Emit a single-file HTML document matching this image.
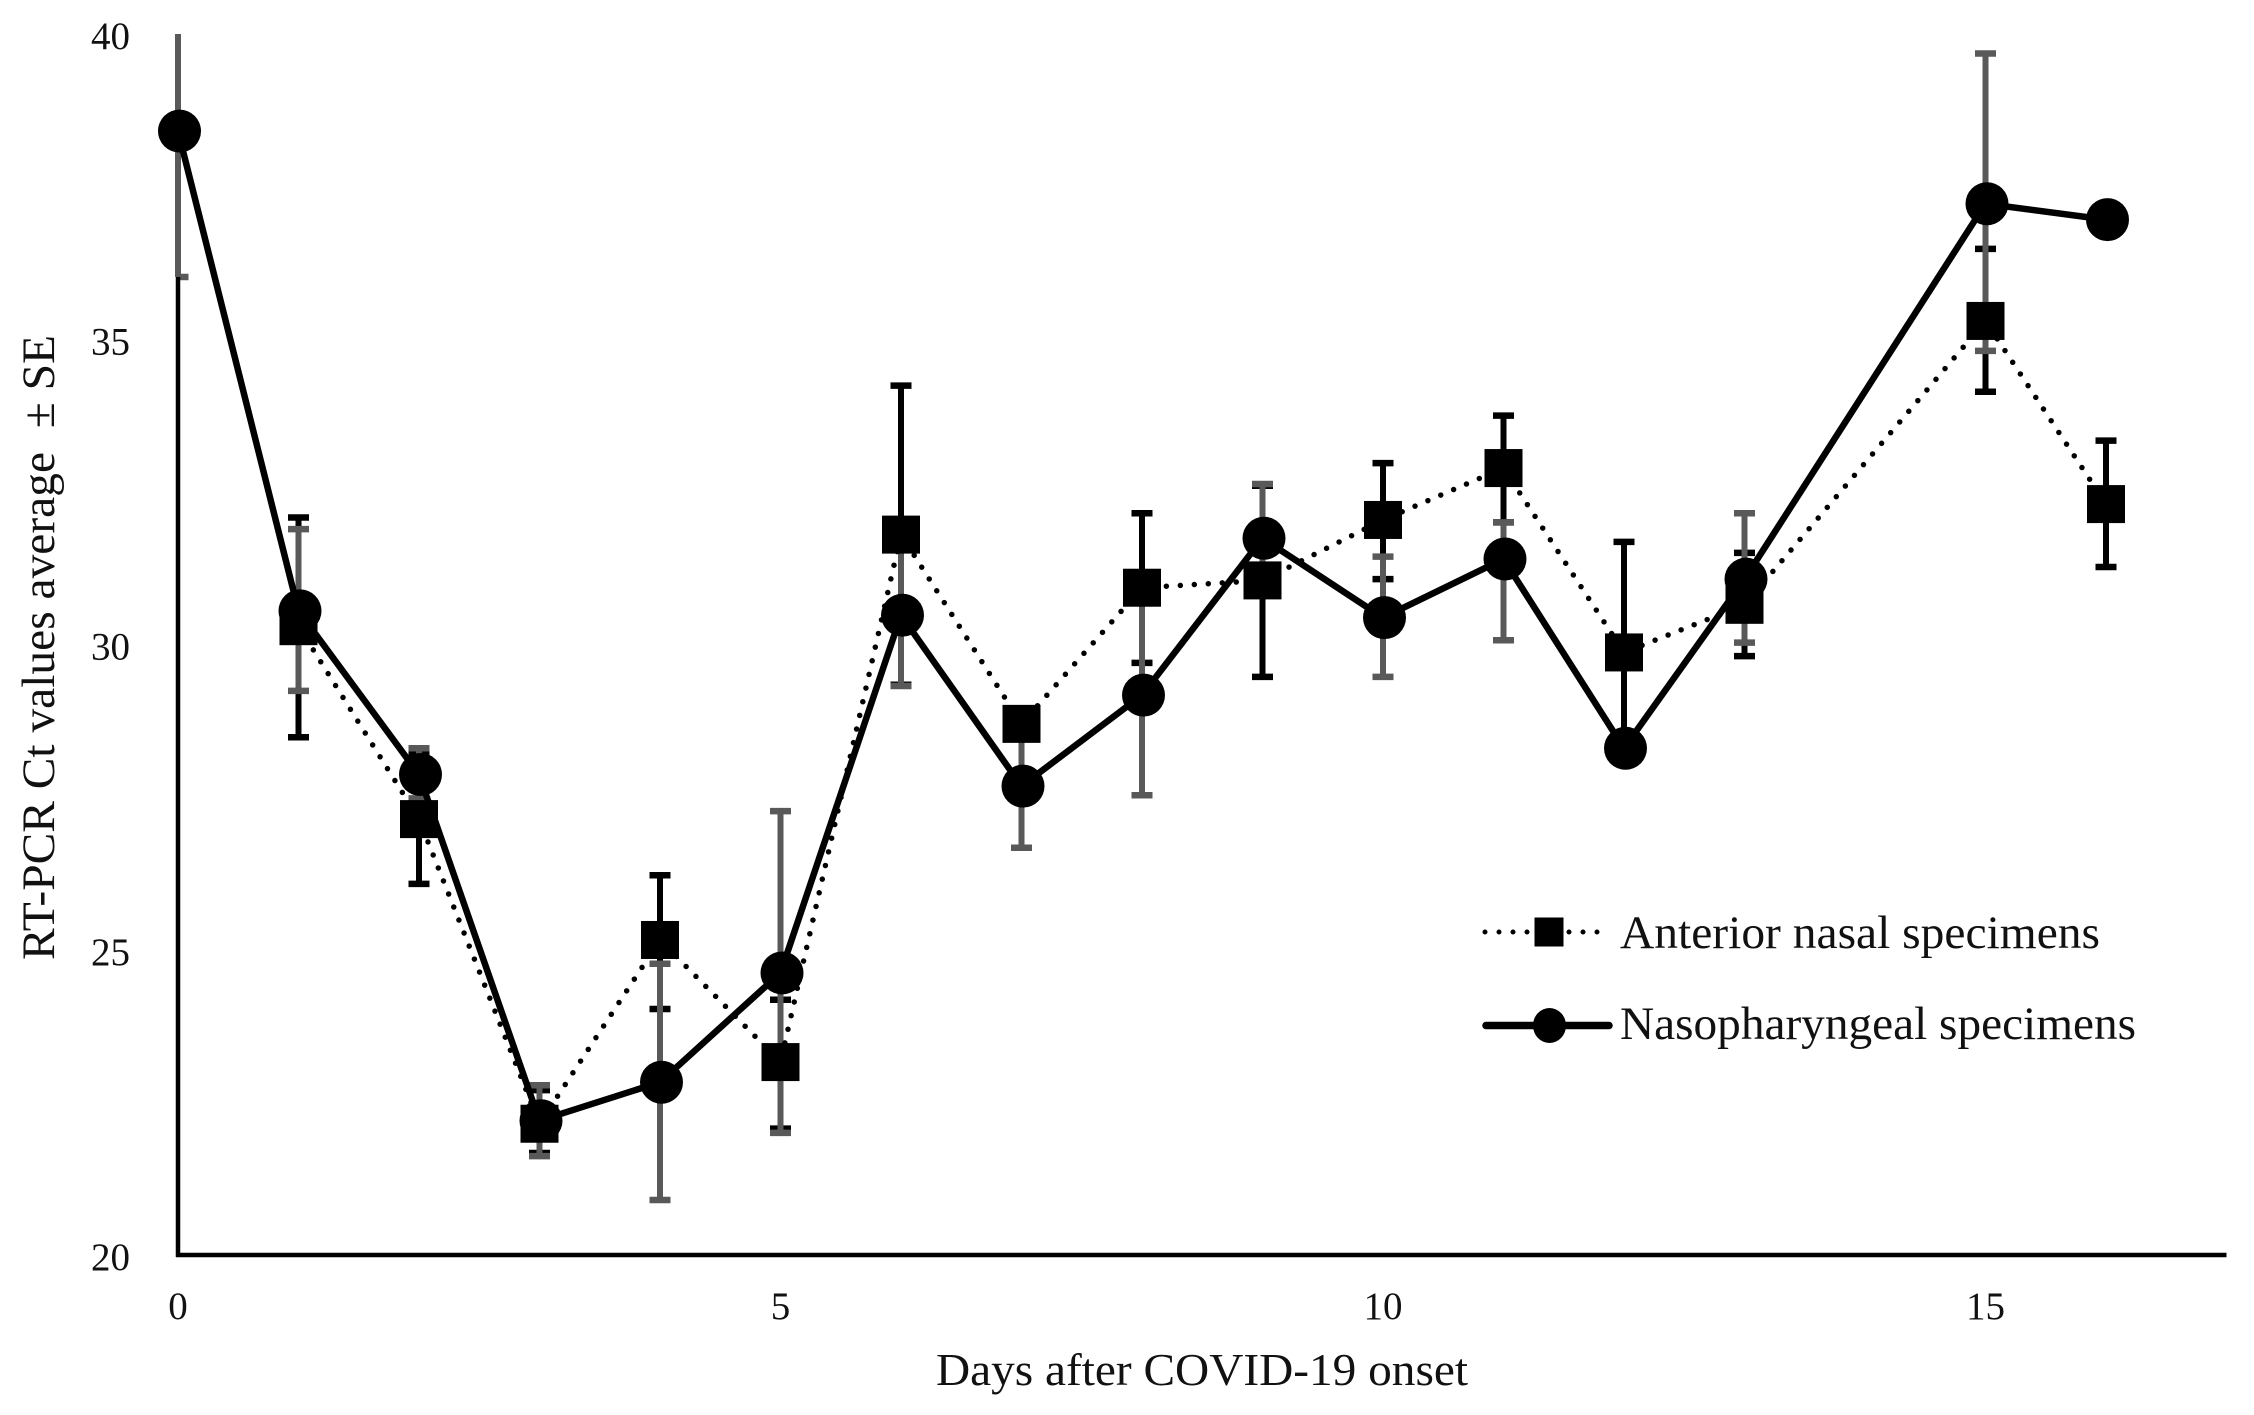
<!DOCTYPE html>
<html lang="en">
<head>
<meta charset="utf-8">
<title>RT-PCR Ct values by days after COVID-19 onset</title>
<style>
  html, body { margin: 0; padding: 0; background: #fff; }
  body { width: 2254px; height: 1415px; overflow: hidden; }
  svg { display: block; }
  text { font-family: "Liberation Serif", "Times New Roman", serif; fill: #111; }
</style>
</head>
<body>
<svg id="chart" width="2254" height="1415" viewBox="0 0 2254 1415" xmlns="http://www.w3.org/2000/svg">
  <rect x="0" y="0" width="2254" height="1415" fill="#fff"/>
  <g id="error-bars-anterior"></g>
  <g id="error-bars-naso"></g>
  <g id="axes"></g>
  <g id="series-anterior"></g>
  <g id="series-naso"></g>
  <text x="936" y="1385" font-size="46" textLength="532" lengthAdjust="spacingAndGlyphs">Days after COVID-19 onset</text>
  <text transform="translate(54 960) rotate(-90)" x="0" y="0" font-size="47" textLength="625" lengthAdjust="spacingAndGlyphs" xml:space="preserve" style="white-space:pre">RT-PCR Ct values average  ± SE</text>
  <g>
    <g>
      <line x1="1485" y1="932" x2="1600" y2="932" stroke="#000" stroke-width="5" stroke-linecap="round" stroke-dasharray="0 14"/>
      <rect x="1534.5" y="917.5" width="29" height="29" fill="#000"/>
      <text x="1620" y="948" font-size="47" textLength="480" lengthAdjust="spacingAndGlyphs">Anterior nasal specimens</text>
    </g>
    <g>
      <line x1="1486" y1="1025.5" x2="1609" y2="1025.5" stroke="#000" stroke-width="7.5" stroke-linecap="round"/>
      <ellipse cx="1549.5" cy="1025.5" rx="16.5" ry="17.5" fill="#000"/>
      <text x="1620" y="1039" font-size="47" textLength="516" lengthAdjust="spacingAndGlyphs">Nasopharyngeal specimens</text>
    </g>
  </g>
</svg>
<script>
const days = [0, 1, 2, 3, 4, 5, 6, 7, 8, 9, 10, 11, 12, 13, 15, 16];
const nasoMean = [38.41, 30.55, 27.87, 22.2, 22.83, 24.62, 30.48, 27.68, 29.17, 31.74, 30.44, 31.4, 28.3, 31.07, 37.22, 36.96];
const nasoHigh = [40, 31.89, 28.3, 22.78, 24.77, 27.27, 31.64, 28.7, 30.8, 32.63, 31.44, 32.0, null, 32.15, 39.68, null];
const nasoLow = [36.02, 29.24, 27.48, 21.62, 20.9, 22.0, 29.32, 26.67, 27.53, 30.85, 29.47, 30.07, null, 30.03, 34.81, null];
const anteriorMean = [null, 30.3, 27.14, 22.15, 25.16, 23.16, 31.8, 28.7, 30.93, 31.05, 32.04, 32.89, 29.87, 30.65, 35.3, 32.3];
const anteriorHigh = [null, 32.08, 28.2, 22.7, 26.22, 24.18, 34.24, 28.9, 32.15, 32.6, 32.97, 33.75, 31.68, 31.5, 36.48, 33.34];
const anteriorLow = [null, 28.48, 26.08, 21.67, 24.03, 22.07, 29.34, 28.5, 29.7, 29.47, 31.07, 32.0, 28.1, 29.81, 34.14, 31.27];
const xTickValues = [0, 5, 10, 15];
const yTickValues = [20, 25, 30, 35, 40];

const xMin = 0, xMax = 17, yMin = 20, yMax = 40;
const plotLeft = 178, plotRight = 2226.5, plotTop = 34, plotBottom = 1255;
function xScale(v) { return plotLeft + (v - xMin) / (xMax - xMin) * (plotRight - plotLeft); }
function yScale(v) { return plotBottom - (v - yMin) / (yMax - yMin) * (plotBottom - plotTop); }

const NS = 'http://www.w3.org/2000/svg';
function make(tag, attrs, parent) {
  const el = document.createElementNS(NS, tag);
  for (const k in attrs) el.setAttribute(k, attrs[k]);
  parent.appendChild(el);
  return el;
}

function drawErrors(parent, high, low, color, prefix) {
  days.forEach(function (d, i) {
    if (high[i] === null || low[i] === null) return;
    const x = xScale(d);
    const yH = yScale(high[i]);
    const yL = yScale(low[i]);
    const capL = Math.max(x - 10.5, plotLeft);
    const capR = x + 10.5;
    const g = make('g', {}, parent);
    
    
    make('line', { x1: x, y1: yH, x2: x, y2: yL, stroke: color, 'stroke-width': 6 }, g);
    if (yH > plotTop + 1) make('line', { x1: capL, y1: yH, x2: capR, y2: yH, stroke: color, 'stroke-width': 6.5 }, g);
    make('line', { x1: capL, y1: yL, x2: capR, y2: yL, stroke: color, 'stroke-width': 6.5 }, g);
  });
}
drawErrors(document.getElementById('error-bars-anterior'), anteriorHigh, anteriorLow, '#000', 'anterior');
drawErrors(document.getElementById('error-bars-naso'), nasoHigh, nasoLow, '#595959', 'nasopharyngeal');

const axes = document.getElementById('axes');
const yAxisLine = make('line', { x1: plotLeft, y1: yScale(36.02), x2: plotLeft, y2: plotBottom + 2, stroke: '#000', 'stroke-width': 4.5 }, axes);


const xAxisLine = make('line', { x1: plotLeft - 2, y1: plotBottom, x2: plotRight, y2: plotBottom, stroke: '#000', 'stroke-width': 4.5 }, axes);



yTickValues.forEach(function (v) {
  const t = make('text', { x: 130, y: yScale(v) + 15, 'font-size': 39, 'text-anchor': 'end' }, axes);
  
  
  t.textContent = String(v);
});
xTickValues.forEach(function (v) {
  const t = make('text', { x: xScale(v), y: 1319, 'font-size': 39, 'text-anchor': 'middle' }, axes);
  
  
  t.textContent = String(v);
});

function pointsFor(means) {
  const pts = [];
  days.forEach(function (d, i) {
    if (means[i] !== null) pts.push(xScale(d) + ',' + yScale(means[i]));
  });
  return pts.join(' ');
}

const anteriorGroup = document.getElementById('series-anterior');
const anteriorLine = make('polyline', { points: pointsFor(anteriorMean), fill: 'none', stroke: '#000', 'stroke-width': 5.5, 'stroke-linecap': 'round', 'stroke-dasharray': '0 14' }, anteriorGroup);


days.forEach(function (d, i) {
  if (anteriorMean[i] === null) return;
  const r = make('rect', { x: xScale(d) - 19, y: yScale(anteriorMean[i]) - 19, width: 38, height: 38, fill: '#000' }, anteriorGroup);
  
  
});

const nasoGroup = document.getElementById('series-naso');
const nasoLine = make('polyline', { points: pointsFor(nasoMean), fill: 'none', stroke: '#000', 'stroke-width': 6.5, 'stroke-linejoin': 'round' }, nasoGroup);


days.forEach(function (d, i) {
  const c = make('circle', { cx: xScale(d) + 1.5, cy: yScale(nasoMean[i]), r: 21.5, fill: '#000' }, nasoGroup);
  
  
});
</script>
</body>
</html>
